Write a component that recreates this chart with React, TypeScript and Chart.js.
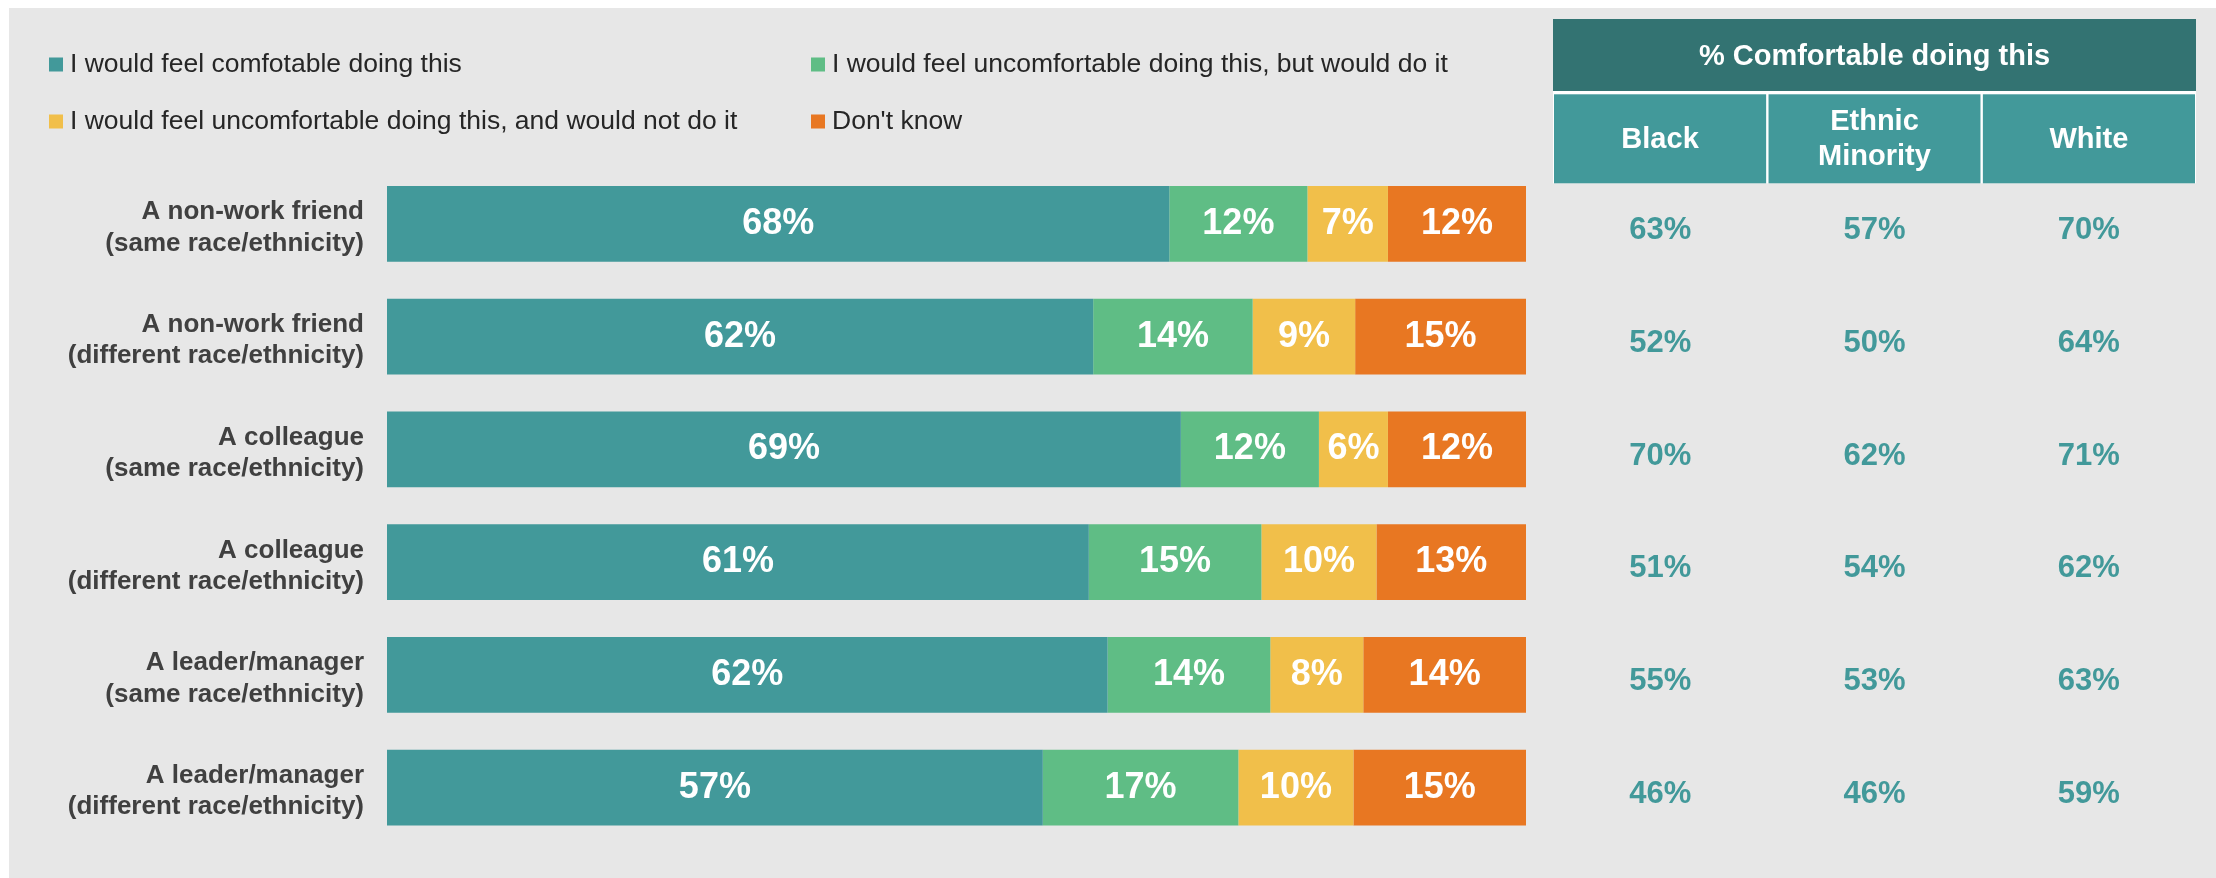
import React, { useEffect, useRef } from 'react';
import { Chart, registerables } from 'chart.js';

Chart.register(...registerables);

// ---------- data ----------
const categories: string[][] = [
  ['A non-work friend', '(same race/ethnicity)'],
  ['A non-work friend', '(different race/ethnicity)'],
  ['A colleague', '(same race/ethnicity)'],
  ['A colleague', '(different race/ethnicity)'],
  ['A leader/manager', '(same race/ethnicity)'],
  ['A leader/manager', '(different race/ethnicity)'],
];

const seriesNames = [
  'I would feel comfotable doing this',
  'I would feel uncomfortable doing this, but would do it',
  'I would feel uncomfortable doing this, and would not do it',
  "Don't know",
];

const comfortable = [68, 62, 69, 61, 62, 57];
const uncomfortableWouldDo = [12, 14, 12, 15, 14, 17];
const uncomfortableWouldNot = [7, 9, 6, 10, 8, 10];
const dontKnow = [12, 15, 12, 13, 14, 15];

const tableTitle = '% Comfortable doing this';
const tableColumns: string[][] = [['Black'], ['Ethnic', 'Minority'], ['White']];
const blackPct = [63, 52, 70, 51, 55, 46];
const ethnicMinorityPct = [57, 50, 62, 54, 53, 46];
const whitePct = [70, 64, 71, 62, 63, 59];

// ---------- style ----------
const seriesColors = ['#42999a', '#5fbd85', '#f1bf4a', '#e87722'];
const FONT = '"Liberation Sans", Arial, Helvetica, sans-serif';
const HEADER_DARK = '#337372';
const HEADER_LIGHT = '#42999a';

export default function App() {
  const ref = useRef<HTMLCanvasElement>(null);

  useEffect(() => {
    const canvas = ref.current;
    if (!canvas) return;
    const series = [comfortable, uncomfortableWouldDo, uncomfortableWouldNot, dontKnow];
    const tableSeries = [blackPct, ethnicMinorityPct, whitePct];
    const totals = categories.map((_, i) => series.reduce((s, arr) => s + arr[i], 0));

    const datasets = series.map((arr, k) => ({
      label: seriesNames[k],
      data: arr.map((v, i) => (v / totals[i]) * 100),
      backgroundColor: seriesColors[k],
      borderWidth: 0,
      barPercentage: 0.672,
      categoryPercentage: 1,
    }));

    const overlay = {
      id: 'overlay',
      afterDatasetsDraw(chart: any) {
        const ctx: CanvasRenderingContext2D = chart.ctx;
        const area = chart.chartArea;
        const yScale = chart.scales.y;
        ctx.save();

        // bar value labels
        ctx.font = `bold 36px ${FONT}`;
        ctx.fillStyle = '#ffffff';
        ctx.textAlign = 'center';
        ctx.textBaseline = 'middle';
        series.forEach((arr, k) => {
          const meta = chart.getDatasetMeta(k);
          meta.data.forEach((el: any, i: number) => {
            const p = el.getProps(['x', 'base', 'y'], true);
            ctx.fillText(`${arr[i]}%`, (p.x + p.base) / 2, p.y);
          });
        });

        // legend (2 x 2 grid)
        const legendX = [49, 811];
        const legendY = [57.5, 114.5];
        ctx.font = `26.5px ${FONT}`;
        ctx.textAlign = 'left';
        ctx.textBaseline = 'alphabetic';
        seriesNames.forEach((name, k) => {
          const x = legendX[k % 2];
          const y = legendY[Math.floor(k / 2)];
          ctx.fillStyle = seriesColors[k];
          ctx.fillRect(x, y, 14, 14);
          ctx.fillStyle = '#262626';
          ctx.fillText(name, x + 21, y + 14.5);
        });

        // table header
        const tLeft = area.right + 27;
        const tWidth = 643;
        const colW = tWidth / 3;
        const top = 19;
        const darkH = 72;
        const subTop = 94.3;
        const subH = 89;
        ctx.fillStyle = '#ffffff';
        ctx.fillRect(tLeft, top + darkH, tWidth, subTop + subH - top - darkH);
        ctx.fillStyle = HEADER_DARK;
        ctx.fillRect(tLeft, top, tWidth, darkH);
        ctx.fillStyle = '#ffffff';
        ctx.font = `bold 29px ${FONT}`;
        ctx.textAlign = 'center';
        ctx.textBaseline = 'middle';
        ctx.fillText(tableTitle, tLeft + tWidth / 2, top + darkH / 2 + 1.5);
        for (let c = 0; c < 3; c++) {
          const x0 = tLeft + c * colW + (c === 0 ? 1 : 1.2);
          const x1 = tLeft + (c + 1) * colW - (c === 2 ? 1 : 1.2);
          ctx.fillStyle = HEADER_LIGHT;
          ctx.fillRect(x0, subTop, x1 - x0, subH);
          ctx.fillStyle = '#ffffff';
          const lines = tableColumns[c];
          const lh = 34.8;
          const cy = subTop + subH / 2 + 1;
          lines.forEach((ln, j) => {
            ctx.fillText(ln, (x0 + x1) / 2, cy + (j - (lines.length - 1) / 2) * lh);
          });
        }

        // table values aligned to the chart rows
        ctx.font = `bold 31px ${FONT}`;
        ctx.fillStyle = HEADER_LIGHT;
        tableSeries.forEach((arr, c) => {
          const cx = tLeft + c * colW + colW / 2;
          arr.forEach((v, i) => {
            const y = yScale.getPixelForValue(i) + 6.6;
            ctx.fillText(`${v}%`, cx, y);
          });
        });

        ctx.restore();
      },
    };

    const chart = new Chart(canvas, {
      type: 'bar',
      data: { labels: categories, datasets },
      options: {
        indexAxis: 'y',
        responsive: false,
        animation: false,
        layout: { padding: { left: 0, right: 690, top: 167.5, bottom: 34 } },
        plugins: {
          legend: { display: false },
          tooltip: { enabled: false },
          title: { display: false },
        },
        scales: {
          x: { stacked: true, min: 0, max: 100, display: false },
          y: {
            stacked: true,
            grid: { display: false, drawTicks: false },
            border: { display: false },
            ticks: {
              color: '#404040',
              font: { family: FONT, size: 26, weight: 'bold', lineHeight: 1.2 },
              padding: 23,
              labelOffset: 4,
              autoSkip: false,
            },
            afterFit: (scale: any) => {
              scale.width = 387;
              scale.paddingTop = 0;
              scale.paddingBottom = 0;
            },
          },
        },
      } as any,
      plugins: [overlay],
    });

    return () => chart.destroy();
  }, []);

  return (
    <div style={{ position: 'absolute', left: 0, top: 0, width: 2216, height: 878, background: '#ffffff' }}>
      <div
        style={{
          position: 'absolute',
          left: 9,
          top: 8,
          width: 2207,
          height: 870,
          background: '#e7e7e7',
        }}
      />
      <canvas
        ref={ref}
        width={2216}
        height={878}
        style={{ position: 'absolute', left: 0, top: 0, width: 2216, height: 878 }}
      />
    </div>
  );
}
